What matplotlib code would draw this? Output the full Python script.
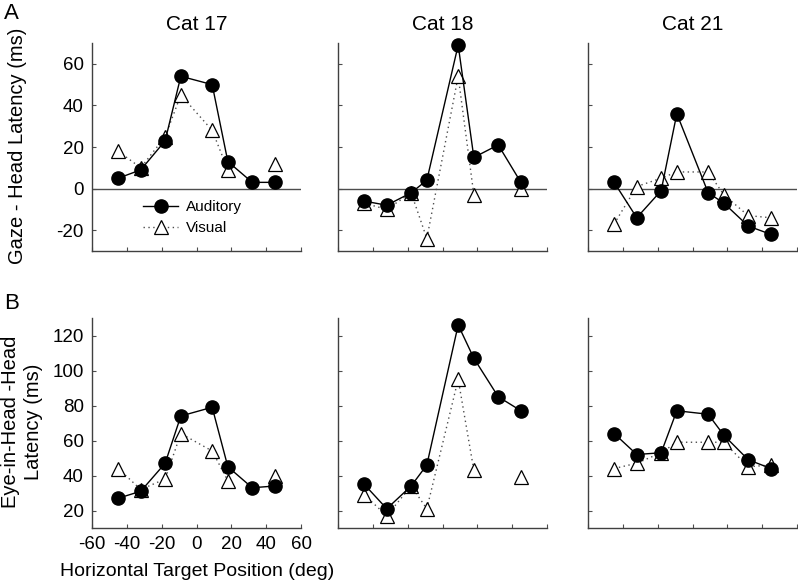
import numpy as np
import matplotlib.pyplot as plt

plt.rcParams['font.family'] = ['Liberation Sans', 'DejaVu Sans']
plt.rcParams['axes.unicode_minus'] = False

# target positions (deg)
pos = [-45, -32, -18, -9, 9, 18, 32, 45]
cats = ["Cat 17", "Cat 18", "Cat 21"]

# A: gaze - head latency (ms)
gaze_aud = {
    "Cat 17": [5, 9, 23, 54, 50, 13, 3, 3],
    "Cat 18": [-6, -8, -2, 4, 69, 15, 21, 3],
    "Cat 21": [3, -14, -1, 36, -2, -7, -18, -22],
}
gaze_vis = {
    "Cat 17": [18, 10, 25, 45, 28, 9, np.nan, 12],
    "Cat 18": [-7, -10, -2, -24, 54, -3, np.nan, 0],
    "Cat 21": [-17, 1, 5, 8, 8, -3, -13, -14],
}

# B: eye-in-head - head latency (ms)
eye_aud = {
    "Cat 17": [27, 31, 47, 74, 79, 45, 33, 34],
    "Cat 18": [35, 21, 34, 46, 126, 107, 85, 77],
    "Cat 21": [64, 52, 53, 77, 75, 63, 49, 44],
}
eye_vis = {
    "Cat 17": [44, 32, 38, 64, 54, 37, np.nan, 40],
    "Cat 18": [29, 17, 34, 21, 95, 43, np.nan, 39],
    "Cat 21": [44, 47, 53, 59, 59, 59, 45, 46],
}

W, H = 798, 584
fig = plt.figure(figsize=(W / 100, H / 100), dpi=100)

lefts = [92, 338, 588]
width = 209
rows = {"A": (43, 251), "B": (318, 528)}


def style(ax):
    for s in ["top", "right"]:
        ax.spines[s].set_visible(False)
    for s in ["left", "bottom"]:
        ax.spines[s].set_color("0.25")
        ax.spines[s].set_linewidth(1)
    ax.tick_params(direction="in", length=3, width=0.8, color="0.3",
                   labelsize=13.5, pad=6)
    ax.set_xlim(-60, 60)
    ax.set_xticks(np.arange(-60, 61, 20))


def draw(ax, aud, vis):
    ax.plot(pos, vis, linestyle=(0, (1, 2.5)), color="0.3", lw=1,
            marker="^", ms=10, mfc="white", mec="black", mew=0.9,
            label="Visual", zorder=3, clip_on=False)
    ax.plot(pos, aud, "-", color="black", lw=1, marker="o", ms=9.5,
            mfc="black", mec="black", label="Auditory", zorder=4,
            clip_on=False)


for i, cat in enumerate(cats):
    top, bot = rows["A"]
    ax = fig.add_axes([lefts[i] / W, 1 - bot / H, width / W, (bot - top) / H])
    style(ax)
    ax.axhline(0, color="0.3", lw=1, zorder=1)
    draw(ax, gaze_aud[cat], gaze_vis[cat])
    ax.set_ylim(-30, 70)
    ax.set_yticks([-20, 0, 20, 40, 60])
    ax.set_xticklabels([])
    ax.set_title(cat, fontsize=15, pad=9)
    if i > 0:
        ax.set_yticklabels([])
    else:
        h, l = ax.get_legend_handles_labels()
        ax.legend(h[::-1], l[::-1], loc="center", bbox_to_anchor=(0.48, 0.16),
                  frameon=False, fontsize=11, handlelength=2.3,
                  handletextpad=0.5, labelspacing=0.45)

    top, bot = rows["B"]
    ax = fig.add_axes([lefts[i] / W, 1 - bot / H, width / W, (bot - top) / H])
    style(ax)
    draw(ax, eye_aud[cat], eye_vis[cat])
    ax.set_ylim(10, 130)
    ax.set_yticks([20, 40, 60, 80, 100, 120])
    if i > 0:
        ax.set_yticklabels([])
        ax.set_xticklabels([])

fig.text(4 / W, 1 - 19 / H, "A", fontsize=16)
fig.text(4 / W, 1 - 309 / H, "B", fontsize=16)
fig.text(18 / W, 1 - 146 / H, "Gaze - Head Latency (ms)", rotation=90,
         ha="center", va="center", fontsize=14.5)
fig.text(22 / W, 1 - 422 / H, "Eye-in-Head -Head\nLatency (ms)", rotation=90,
         ha="center", va="center", fontsize=14.5, linespacing=1.25)
fig.text(197 / W, 1 - 572 / H, "Horizontal Target Position (deg)",
         ha="center", va="center", fontsize=14)

fig.savefig("out.png", dpi=100)
